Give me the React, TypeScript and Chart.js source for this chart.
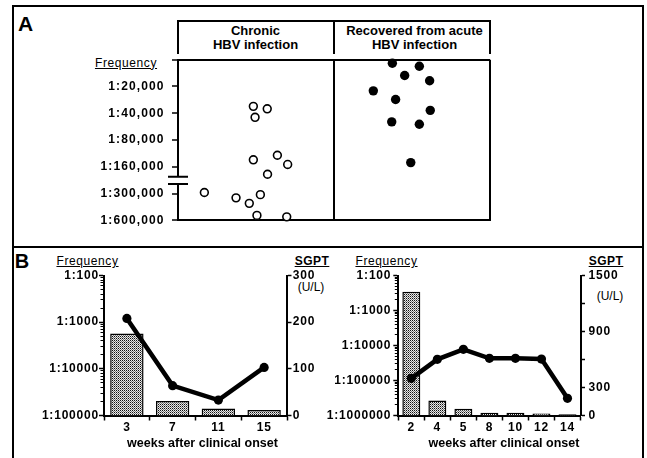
import { useEffect, useRef } from 'react';
import { Chart, registerables } from 'chart.js';

Chart.register(...registerables);

/* ---------------- Panel A data ---------------- */
const groupTitles: string[][] = [
  ['Chronic', 'HBV infection'],
  ['Recovered from acute', 'HBV infection'],
];
// frequency tick denominators, bottom to top (axis break between 1:160,000 and 1:300,000)
const freqTickDenomsA = [600000, 300000, 160000, 80000, 40000, 20000];
const freqTickLabelsA = ['1:600,000', '1:300,000', '1:160,000', '1:80,000', '1:40,000', '1:20,000'];
// chronic HBV infection (open circles): frequency denominators and horizontal jitter within group
const chronicDenoms = [33470, 35680, 44450, 133600, 118800, 150700, 190800, 292900, 335500, 387000, 308900, 528500, 549000];
const chronicOffsets = [-0.017, 0.072, -0.006, -0.017, 0.137, 0.203, 0.074, -0.331, -0.128, -0.043, 0.028, 0.006, 0.197];
// recovered from acute HBV infection (filled circles)
const recoveredDenoms = [10950, 11860, 15060, 17230, 22400, 28050, 37100, 49980, 53200, 143600];
const recoveredOffsets = [-0.126, 0.047, -0.047, 0.113, -0.248, -0.105, 0.117, -0.13, 0.047, -0.008];
const axisBreakA = [1.36, 1.63];

/* ---------------- Panel B data ---------------- */
const weeksLeft = ['3', '7', '11', '15'];
const freqDenomsLeft = [1750, 48600, 71000, 75900];
const sgptLeft = [208, 64, 33, 103];
const freqTicksLeft = [100000, 10000, 1000, 100];
const sgptTicksLeft = [0, 100, 200, 300];
const sgptLabelsLeft = ['0', '100', '200', '300'];

const weeksRight = ['2', '4', '5', '8', '10', '12', '14'];
const freqDenomsRight = [290, 370000, 646000, 830000, 830000, 870000, 925000];
const sgptRight = [398, 602, 709, 613, 613, 605, 184];
const freqTicksRight = [1000000, 100000, 10000, 1000, 100];
const sgptTicksRight = [0, 300, 600, 900, 1200, 1500];
const sgptLabelsRight = ['0', '300', '', '900', '', '1500'];

const minorSteps = [2, 3, 4, 5, 6, 7, 8, 9];

/* ---------------- helpers ---------------- */
const FAMILY = "'Liberation Sans', Arial, Helvetica, sans-serif";
const tickFont = { family: FAMILY, size: 12, weight: 'bold' as const };
const BLACK = '#000';
const NONE = 'rgba(0,0,0,0)';

// position on the panel-A axis (tick index units) by log interpolation between tick denominators
function freqToPos(d: number): number {
  const t = freqTickDenomsA;
  for (let i = 0; i < t.length - 1; i++) {
    if (d <= t[i] && d >= t[i + 1]) return i + Math.log(t[i] / d) / Math.log(t[i] / t[i + 1]);
  }
  const n = t.length - 1;
  if (d < t[n]) return n + Math.log(t[n] / d) / Math.log(t[n - 1] / t[n]);
  return -Math.log(d / t[0]) / Math.log(t[0] / t[1]);
}

const spacingPlugin = (px: number) => ({
  id: 'tickLetterSpacing',
  beforeUpdate(chart: any) { chart.ctx.letterSpacing = `${px}px`; },
  beforeDraw(chart: any) { chart.ctx.letterSpacing = `${px}px`; },
});

const axisBreakPlugin = {
  id: 'axisBreak',
  afterDraw(chart: any) {
    const y = chart.scales.y;
    const ctx = chart.ctx;
    const x0 = chart.chartArea.left;
    const yA = y.getPixelForValue(axisBreakA[1]);
    const yB = y.getPixelForValue(axisBreakA[0]);
    ctx.save();
    ctx.fillStyle = '#fff';
    ctx.fillRect(x0 - 2, yA, 4, yB - yA);
    ctx.strokeStyle = BLACK;
    ctx.lineWidth = 2;
    ctx.beginPath();
    ctx.moveTo(x0 - 10, yA); ctx.lineTo(x0 + 10, yA);
    ctx.moveTo(x0 - 10, yB); ctx.lineTo(x0 + 10, yB);
    ctx.stroke();
    ctx.restore();
  },
};

function makeStipple(): any {
  const c = document.createElement('canvas');
  c.width = 2; c.height = 2;
  const g = c.getContext('2d')!;
  g.fillStyle = '#e8e8e8'; g.fillRect(0, 0, 2, 2);
  g.fillStyle = '#111'; g.fillRect(0, 0, 1, 1);
  g.fillStyle = '#777'; g.fillRect(1, 1, 1, 1);
  return g.createPattern(c, 'repeat') || '#a0a0a0';
}

function buildPanelA(): any {
  return {
    type: 'scatter',
    data: {
      datasets: [
        {
          data: chronicDenoms.map((d, i) => ({ x: 0.5 + chronicOffsets[i], y: freqToPos(d) })),
          pointRadius: 3.9, pointBorderWidth: 1.6, pointBackgroundColor: '#fff', pointBorderColor: BLACK, clip: false,
        },
        {
          data: recoveredDenoms.map((d, i) => ({ x: 1.5 + recoveredOffsets[i], y: freqToPos(d) })),
          pointRadius: 4.7, pointBorderWidth: 0, pointBackgroundColor: BLACK, pointBorderColor: BLACK, clip: false,
        },
      ],
    },
    options: {
      responsive: false, animation: false, events: [],
      layout: { padding: { top: 8, right: 10, bottom: 0, left: 0 } },
      plugins: { legend: { display: false }, tooltip: { enabled: false } },
      scales: {
        x: {
          type: 'linear', min: 0, max: groupTitles.length,
          ticks: { display: false, stepSize: 1 },
          grid: { drawTicks: false, lineWidth: 2, color: (c: any) => (c.tick && c.tick.value > 0 ? BLACK : NONE) },
          border: { display: true, color: BLACK, width: 2 },
          afterFit: (s: any) => { s.height = 8; },
        },
        y: {
          type: 'linear', min: 0, max: freqTickLabelsA.length,
          afterBuildTicks: (s: any) => {
            s.ticks = [...freqTickLabelsA.map((_, i) => i), freqTickLabelsA.length].map((v) => ({ value: v }));
          },
          ticks: {
            callback: (v: any) => freqTickLabelsA[v] ?? '',
            font: tickFont, color: BLACK, padding: 7.5, autoSkip: false,
          },
          grid: {
            lineWidth: 2, tickColor: BLACK, tickWidth: 1.5, tickLength: 6,
            color: (c: any) => (c.tick && c.tick.value === freqTickLabelsA.length ? BLACK : NONE),
          },
          border: { display: true, color: BLACK, width: 2 },
          afterFit: (s: any) => { s.width = 148; },
        },
      },
    },
    plugins: [spacingPlugin(1.1), axisBreakPlugin],
  };
}

interface ComboParams {
  weeks: string[]; freqDenoms: number[]; sgpt: number[]; freqTicks: number[];
  sgptTicks: number[]; sgptLabels: string[]; leftWidth: number; rightWidth: number;
  xHeight: number; barPct: number; leftPad: number; rightPadTick: number;
}

function buildCombo(p: ComboParams): any {
  const maxDen = Math.max(...p.freqTicks);
  const minDen = Math.min(...p.freqTicks);
  const minor: { value: number }[] = [];
  for (let b = 1 / maxDen; b < (1 / minDen) * 0.999; b *= 10) {
    for (const s of minorSteps) minor.push({ value: s * b });
  }
  return {
    type: 'bar',
    data: {
      labels: p.weeks,
      datasets: [
        {
          type: 'line', data: p.sgpt, yAxisID: 'y2', order: 1,
          borderColor: BLACK, borderWidth: 4.5, pointRadius: 4.6, pointBorderWidth: 0,
          pointBackgroundColor: BLACK, tension: 0, clip: false,
        },
        {
          type: 'bar', data: p.freqDenoms.map((d) => 1 / d), yAxisID: 'y', order: 2,
          backgroundColor: makeStipple(), borderColor: BLACK, borderWidth: 1.5,
          barPercentage: p.barPct, categoryPercentage: 1,
        },
      ],
    },
    options: {
      responsive: false, animation: false, events: [],
      layout: { padding: { top: 13.5, right: 0, bottom: 0, left: 0 } },
      plugins: { legend: { display: false }, tooltip: { enabled: false } },
      scales: {
        x: {
          type: 'category', offset: true,
          grid: { offset: true, drawOnChartArea: false, tickLength: 5, tickWidth: 1.5, tickColor: BLACK },
          border: { color: BLACK, width: 2 },
          ticks: { font: tickFont, color: BLACK, padding: 0, autoSkip: false, maxRotation: 0 },
          afterFit: (s: any) => { s.height = p.xHeight; },
        },
        y: {
          type: 'logarithmic', position: 'left', weight: 1,
          min: 1 / maxDen, max: 1 / minDen,
          afterBuildTicks: (s: any) => { s.ticks = p.freqTicks.map((d) => ({ value: 1 / d, major: true })); },
          ticks: {
            callback: (v: any) => '1:' + Math.round(1 / v),
            font: tickFont, color: BLACK, padding: p.leftPad, autoSkip: false,
          },
          grid: { drawOnChartArea: false, tickLength: 5, tickWidth: 1.5, tickColor: BLACK },
          border: { color: BLACK, width: 2 },
          afterFit: (s: any) => { s.width = p.leftWidth; },
        },
        yMinor: {
          type: 'logarithmic', position: 'left', weight: 0,
          min: 1 / maxDen, max: 1 / minDen,
          afterBuildTicks: (s: any) => { s.ticks = minor.map((t) => ({ ...t })); },
          ticks: { display: false },
          grid: { drawOnChartArea: false, tickLength: 3.5, tickWidth: 1, tickColor: BLACK },
          border: { display: false },
          afterFit: (s: any) => { s.width = 0; },
        },
        y2: {
          type: 'linear', position: 'right',
          min: p.sgptTicks[0], max: p.sgptTicks[p.sgptTicks.length - 1],
          afterBuildTicks: (s: any) => { s.ticks = p.sgptTicks.map((v) => ({ value: v })); },
          ticks: {
            callback: (_v: any, i: number) => p.sgptLabels[i],
            font: tickFont, color: BLACK, padding: p.rightPadTick, autoSkip: false,
          },
          grid: { drawOnChartArea: false, tickLength: 4.5, tickWidth: 1.5, tickColor: BLACK },
          border: { color: BLACK, width: 2 },
          afterFit: (s: any) => { s.width = p.rightWidth; },
        },
      },
    },
    plugins: [spacingPlugin(0.8)],
  };
}

function ChartCanvas(props: { left: number; top: number; width: number; height: number; build: () => any }) {
  const ref = useRef<HTMLCanvasElement>(null);
  useEffect(() => {
    const chart = new Chart(ref.current as HTMLCanvasElement, props.build());
    return () => chart.destroy();
  }, []);
  const { left, top, width, height } = props;
  return (
    <canvas
      ref={ref}
      width={width}
      height={height}
      style={{ position: 'absolute', left, top, width, height }}
    />
  );
}

function Txt(props: {
  x: number; y: number; size: number; bold?: boolean; underline?: boolean; spacing?: number; children: any;
}) {
  return (
    <div
      style={{
        position: 'absolute', left: props.x, top: props.y, transform: 'translate(-50%, -50%)',
        fontSize: props.size, fontWeight: props.bold ? 'bold' : 'normal',
        textDecoration: props.underline ? 'underline' : 'none',
        letterSpacing: props.spacing ?? 0, lineHeight: 1, whiteSpace: 'nowrap', color: BLACK,
      }}
    >
      {props.children}
    </div>
  );
}

const line = (left: number, top: number, width: number, height: number) => (
  <div style={{ position: 'absolute', left, top, width, height, background: BLACK }} />
);

export default function App() {
  return (
    <div
      style={{
        position: 'absolute', left: 0, top: 0, width: 647, height: 458, overflow: 'hidden',
        background: '#fff', fontFamily: FAMILY,
      }}
    >
      {/* outer frame and panel divider */}
      <div
        style={{
          position: 'absolute', left: 12, top: 5, width: 632, height: 480,
          border: '2px solid #000', boxSizing: 'border-box',
        }}
      />
      {line(12, 246, 632, 2)}

      {/* Panel A */}
      <Txt x={25.5} y={22.5} size={21} bold>A</Txt>
      {/* header box */}
      {line(177, 20, 314, 2)}
      {line(177, 20, 2, 34)}
      {line(333, 20, 2, 34)}
      {line(489, 20, 2, 34)}
      <Txt x={255.5} y={30} size={13} bold>{groupTitles[0][0]}</Txt>
      <Txt x={255.5} y={44} size={13} bold>{groupTitles[0][1]}</Txt>
      <Txt x={414.5} y={30} size={13} bold>{groupTitles[1][0]}</Txt>
      <Txt x={414.5} y={44} size={13} bold>{groupTitles[1][1]}</Txt>
      <Txt x={126} y={62.5} size={12} underline spacing={0.6}>Frequency</Txt>
      <ChartCanvas left={30} top={45} width={470} height={190} build={buildPanelA} />

      {/* Panel B */}
      <Txt x={22} y={261} size={20} bold>B</Txt>
      <Txt x={87.5} y={261} size={12} underline spacing={0.6}>Frequency</Txt>
      <Txt x={312} y={261} size={12} bold underline spacing={0.5}>SGPT</Txt>
      <Txt x={311} y={287} size={12}>(U/L)</Txt>
      <Txt x={386.5} y={261} size={12} underline spacing={0.6}>Frequency</Txt>
      <Txt x={606} y={261} size={12} bold underline spacing={0.5}>SGPT</Txt>
      <Txt x={610} y={296} size={12}>(U/L)</Txt>
      <ChartCanvas
        left={20} top={262} width={330} height={175}
        build={() => buildCombo({
          weeks: weeksLeft, freqDenoms: freqDenomsLeft, sgpt: sgptLeft, freqTicks: freqTicksLeft,
          sgptTicks: sgptTicksLeft, sgptLabels: sgptLabelsLeft, leftWidth: 84, rightWidth: 63,
          xHeight: 21.5, barPct: 0.73, leftPad: 0, rightPadTick: 1.2,
        })}
      />
      <ChartCanvas
        left={300} top={262} width={330} height={175}
        build={() => buildCombo({
          weeks: weeksRight, freqDenoms: freqDenomsRight, sgpt: sgptRight, freqTicks: freqTicksRight,
          sgptTicks: sgptTicksRight, sgptLabels: sgptLabelsRight, leftWidth: 98.3, rightWidth: 49.5,
          xHeight: 21.5, barPct: 0.69, leftPad: 2, rightPadTick: 3.5,
        })}
      />
      <Txt x={202.5} y={443} size={12.5} bold>weeks after clinical onset</Txt>
      <Txt x={504} y={443} size={12.5} bold>weeks after clinical onset</Txt>
    </div>
  );
}
